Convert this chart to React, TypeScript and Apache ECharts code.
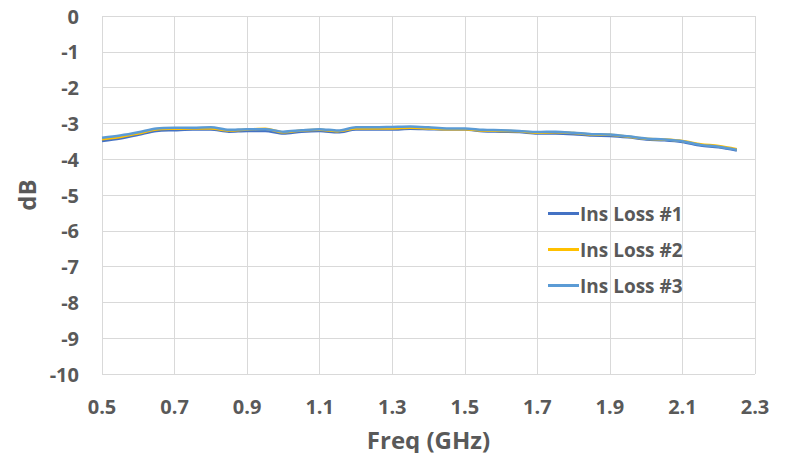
import React, { useEffect, useRef } from "react";
import * as echarts from "echarts";

const freqGHz = [
  0.5, 0.55, 0.6, 0.65, 0.7, 0.75, 0.8, 0.85, 0.9, 0.95, 1.0, 1.05, 1.1, 1.15, 1.2, 1.25, 1.3, 1.35,
  1.4, 1.45, 1.5, 1.55, 1.6, 1.65, 1.7, 1.75, 1.8, 1.85, 1.9, 1.95, 2.0, 2.05, 2.1, 2.15, 2.2, 2.25,
];
const insLoss1 = [
  -3.49, -3.42, -3.32, -3.21, -3.19, -3.17, -3.17, -3.23, -3.21, -3.21, -3.28, -3.23, -3.21, -3.25,
  -3.17, -3.17, -3.17, -3.15, -3.16, -3.17, -3.17, -3.22, -3.23, -3.24, -3.28, -3.28, -3.3, -3.34,
  -3.35, -3.39, -3.45, -3.47, -3.52, -3.62, -3.67, -3.76,
];
const insLoss2 = [
  -3.44, -3.38, -3.28, -3.17, -3.15, -3.14, -3.14, -3.2, -3.17, -3.15, -3.25, -3.2, -3.18, -3.22,
  -3.14, -3.14, -3.14, -3.12, -3.14, -3.16, -3.16, -3.2, -3.21, -3.22, -3.26, -3.25, -3.27, -3.31,
  -3.32, -3.37, -3.43, -3.45, -3.49, -3.58, -3.63, -3.72,
];
const insLoss3 = [
  -3.4, -3.34, -3.25, -3.14, -3.12, -3.12, -3.11, -3.18, -3.16, -3.16, -3.23, -3.19, -3.16, -3.2,
  -3.11, -3.11, -3.1, -3.09, -3.11, -3.14, -3.14, -3.18, -3.19, -3.21, -3.24, -3.23, -3.26, -3.3,
  -3.31, -3.36, -3.42, -3.45, -3.5, -3.6, -3.65, -3.74,
];
const seriesNames = ["Ins Loss #1", "Ins Loss #2", "Ins Loss #3"];
const seriesColors = ["#4472C4", "#FFC000", "#5B9BD5"];

// x axis runs 0.5 .. 2.3 GHz with ticks every 0.2; plotted as offset from 0.5 so ticks start at a multiple of the interval
const X_START = 0.5;
const X_END = 2.3;
const X_STEP = 0.2;

const FONT = "'Open Sans', Lato, sans-serif";
const TEXT = "#595959";

export default function App() {
  const ref = useRef<HTMLDivElement>(null);
  useEffect(() => {
    if (!ref.current) return;
    const chart = echarts.init(ref.current, undefined, { renderer: "svg" });
    const all = [insLoss1, insLoss2, insLoss3];
    chart.setOption({
      animation: false,
      backgroundColor: "#ffffff",
      textStyle: { fontFamily: FONT },
      grid: { left: 102, right: 32, top: 16, bottom: 87, containLabel: false },
      legend: {
        orient: "vertical",
        left: 548,
        top: 204,
        padding: 0,
        itemGap: 17,
        itemWidth: 31,
        itemHeight: 3,
        icon: "rect",
        textStyle: { fontFamily: FONT, fontSize: 19, fontWeight: "bold", color: TEXT, padding: [0, 0, 0, -4] },
        data: seriesNames,
      },
      xAxis: {
        type: "value",
        min: 0,
        max: X_END - X_START,
        interval: X_STEP,
        name: "Freq (GHz)",
        nameLocation: "middle",
        nameGap: 53,
        nameTextStyle: { fontFamily: FONT, fontSize: 24, fontWeight: "bold", color: TEXT },
        axisLine: { show: false },
        axisTick: { show: false },
        axisLabel: {
          margin: 22,
          fontFamily: FONT,
          fontSize: 20,
          fontWeight: "bold",
          color: TEXT,
          formatter: (v: number) => (v + X_START).toFixed(1),
        },
        splitLine: { show: true, lineStyle: { color: "#D9D9D9", width: 1 } },
      },
      yAxis: {
        type: "value",
        min: -10,
        max: 0,
        interval: 1,
        name: "dB",
        nameLocation: "middle",
        nameGap: 58,
        nameTextStyle: { fontFamily: FONT, fontSize: 24, fontWeight: "bold", color: TEXT },
        axisLine: { show: false },
        axisTick: { show: false },
        axisLabel: { margin: 23, fontFamily: FONT, fontSize: 20, fontWeight: "bold", color: TEXT },
        splitLine: { show: true, lineStyle: { color: "#D9D9D9", width: 1 } },
      },
      series: all.map((vals, i) => ({
        name: seriesNames[i],
        type: "line",
        showSymbol: false,
        smooth: 0.3,
        lineStyle: { color: seriesColors[i], width: 2.5 },
        itemStyle: { color: seriesColors[i] },
        data: freqGHz.map((f, k) => [f - X_START, vals[k]]),
      })),
    });
    return () => chart.dispose();
  }, []);
  return <div ref={ref} style={{ width: 787, height: 461, margin: -8 }} />;
}
